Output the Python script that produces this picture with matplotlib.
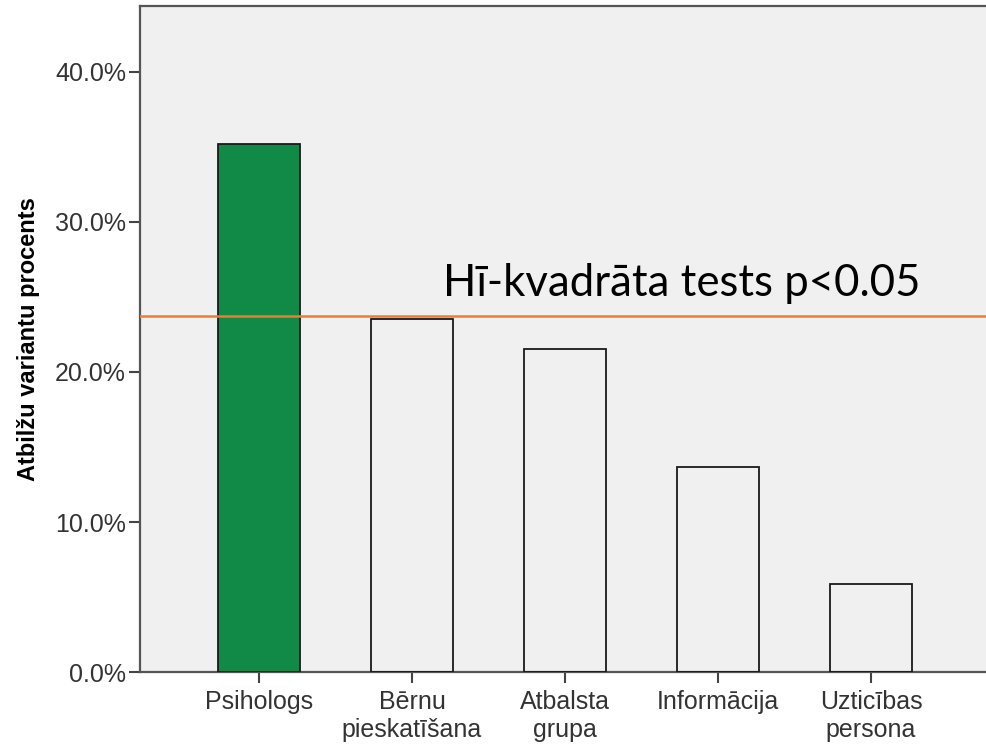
import numpy as np
import matplotlib
matplotlib.use('Agg')
from matplotlib import pyplot as plt

categories = ['Psihologs', 'Bērnu\npieskatīšana', 'Atbalsta\ngrupa', 'Informācija', 'Uzticības\npersona']
percents = [35.2, 23.5, 21.5, 13.7, 5.9]
bar_colors = ['#108a46', 'none', 'none', 'none', 'none']
threshold = 23.7
threshold_label = 'Hī-kvadrāta tests p<0.05'
yticks = [0, 10, 20, 30, 40]

fig = plt.figure(figsize=(9.87, 7.45), dpi=100)
ax = fig.add_axes([140 / 987, 1 - 672 / 745, 1 - 140 / 987, 666 / 745])
ax.set_facecolor('#f0f0f0')

x = np.arange(len(categories))
ax.bar(x, percents, width=0.536, color=bar_colors, edgecolor='#1a1a1a', linewidth=1.3, zorder=3)
ax.axhline(threshold, color='#ed7d31', linewidth=1.8, zorder=4)
ax.text(1.20, threshold + 1.4, threshold_label, fontsize=31.5, family='Lato', color='black', zorder=5)

ax.set_xlim(-0.778, 4.758)
ax.set_ylim(0, 44.4)
ax.set_xticks(x)
ax.set_xticklabels(categories, fontsize=18, family='Liberation Sans', color='#333333', linespacing=1.2)
ax.set_yticks(yticks)
ax.set_yticklabels(['{0:.1f}%'.format(v) for v in yticks], fontsize=18, family='Liberation Sans', color='#333333')
ax.tick_params(axis='both', direction='out', length=8, width=1.5, color='#444444', pad=2)
ax.tick_params(axis='x', pad=5)

for side in ['left', 'top', 'bottom']:
    ax.spines[side].set_color('#555555')
    ax.spines[side].set_linewidth(1.6)
ax.spines['right'].set_visible(False)

ax.set_ylabel('Atbilžu variantu procents', fontsize=17, fontweight='bold', family='Liberation Sans', labelpad=11)

fig.savefig('out.png', dpi=100)
